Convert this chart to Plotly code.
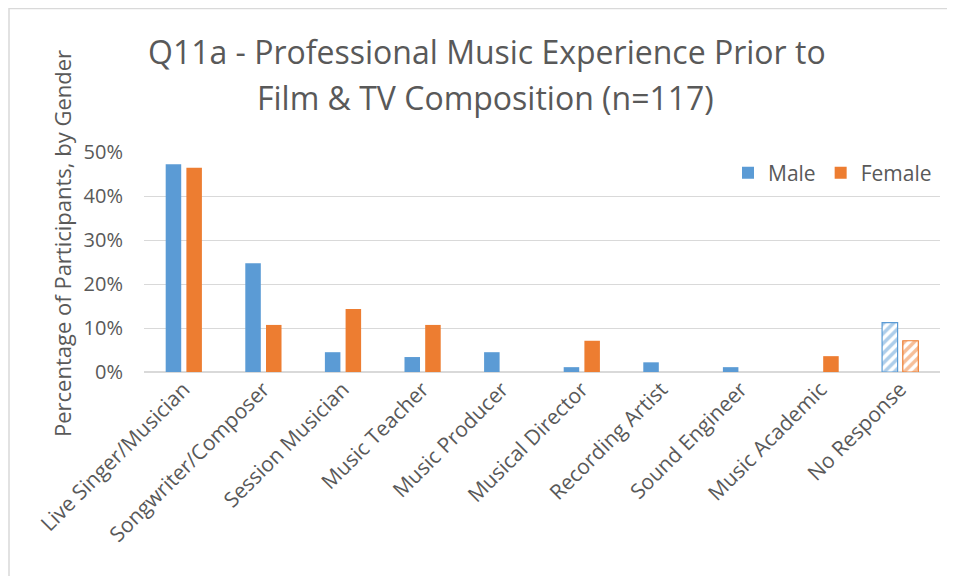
import plotly.graph_objects as go

categories = [
    "Live Singer/Musician", "Songwriter/Composer", "Session Musician",
    "Music Teacher", "Music Producer", "Musical Director", "Recording Artist",
    "Sound Engineer", "Music Academic", "No Response",
]
male = [47.2, 24.7, 4.5, 3.4, 4.5, 1.1, 2.2, 1.1, 0.0, 11.2]
female = [46.4, 10.7, 14.3, 10.7, 0.0, 7.1, 0.0, 0.0, 3.6, 7.1]
hatch = ["", "", "", "", "", "", "", "", "", "/"]

MALE_C = "#5B9BD5"
FEMALE_C = "#ED7D31"
TXT = "#595959"
FONT = "Open Sans"

fig = go.Figure()
for name, vals, color in [("Male", male, MALE_C), ("Female", female, FEMALE_C)]:
    outline = [1.2 if h else 0 for h in hatch]
    fig.add_trace(go.Bar(
        x=categories, y=[v / 100 for v in vals], name=name,
        marker=dict(color=color, line=dict(color=color, width=outline),
                    pattern=dict(shape=hatch, fgcolor=color, bgcolor="white",
                                 size=7, solidity=0.5)),
    ))

# screen pixel -> paper coords (page is offset by 8px)
def px(x):
    return (x - 144) / 796

def py(y):
    return (372 - y) / 220

fig.update_layout(
    width=955, height=576,
    margin=dict(l=136, r=23, t=144, b=212),
    paper_bgcolor="white", plot_bgcolor="white",
    font=dict(family=FONT, color=TXT, size=20),
    barmode="group", bargap=0.48, bargroupgap=0.25,
    showlegend=True,
    legend=dict(orientation="h", x=px(937), xanchor="right", y=py(173), yanchor="middle",
                font=dict(size=21, color=TXT), itemwidth=30, bgcolor="rgba(0,0,0,0)"),
)
fig.update_yaxes(range=[0, 0.5], dtick=0.1, tickformat=".0%", showgrid=True,
                 gridcolor="#d9d9d9", gridwidth=1, zeroline=True, zerolinecolor="#d9d9d9",
                 ticklabelstandoff=20, tickfont=dict(size=20, color=TXT))
fig.update_xaxes(tickangle=-45, showline=False, tickfont=dict(size=21, color=TXT))

# Title lines
fig.add_annotation(text="Q11a - Professional Music Experience Prior to", xref="paper", yref="paper",
                   x=px(487), y=py(51), showarrow=False,
                   font=dict(size=32, color=TXT), xanchor="center", yanchor="middle")
fig.add_annotation(text="Film & TV Composition (n=117)", xref="paper", yref="paper",
                   x=px(485), y=py(97), showarrow=False,
                   font=dict(size=32, color=TXT), xanchor="center", yanchor="middle")
# Y-axis title
fig.add_annotation(text="Percentage of Participants, by Gender", xref="paper", yref="paper",
                   x=px(62), y=py(244), showarrow=False, textangle=-90,
                   font=dict(size=22, color=TXT), xanchor="center", yanchor="middle")

# Chart border
fig.add_shape(type="rect", xref="paper", yref="paper",
              x0=px(9), x1=px(970), y0=py(590), y1=py(8.5),
              line=dict(color="#d9d9d9", width=1.5), layer="below")

fig.write_html("out.html")
